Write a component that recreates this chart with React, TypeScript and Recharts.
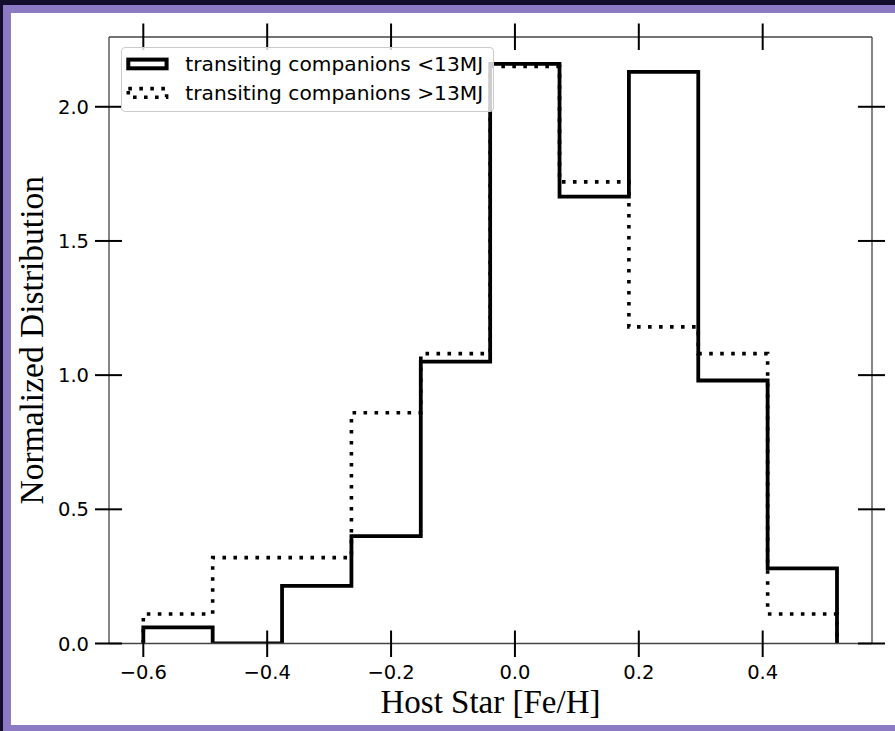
import React from 'react';
import { ComposedChart, Line, XAxis, YAxis, Legend, Label } from 'recharts';

// histogram bins
const binEdges = [-0.6, -0.488, -0.376, -0.264, -0.152, -0.04, 0.072, 0.184, 0.296, 0.408, 0.52];
const lowMassHeights = [0.06, 0, 0.215, 0.4, 1.05, 2.16, 1.665, 2.13, 0.98, 0.28];
const highMassHeights = [0.11, 0.32, 0.32, 0.86, 1.08, 2.15, 1.72, 1.18, 1.08, 0.11];
const seriesNames = ['transiting companions <13MJ', 'transiting companions >13MJ'];

const xTicks = [-0.6, -0.4, -0.2, 0, 0.2, 0.4];
const yTicks = [0, 0.5, 1, 1.5, 2];
const xDomain = [-0.6554, 0.5765];
const yDomain = [0, 2.26];

const SANS = 'DejaVu Sans';
const SERIF = 'Liberation Serif';
const DOTS = '3.6 7.4';

// outline of a step histogram: up at the first edge, down at the last
const toSteps = (heights: number[]) => {
  const pts = [{ x: binEdges[0], y: 0 }];
  heights.forEach((h, i) => pts.push({ x: binEdges[i], y: h }));
  pts.push({ x: binEdges[binEdges.length - 1], y: 0 });
  return pts;
};

const fmt = (v: number) => v.toFixed(1).replace('-', '\u2212');

const BottomTick = ({ x, y, payload }: any) => (
  <g>
    <line x1={x} x2={x} y1={y - 13} y2={y + 13.5} stroke="#000" strokeWidth={2} />
    <text x={x} y={y + 35} textAnchor="middle" fontFamily={SANS} fontSize={19.5} fill="#000">
      {fmt(payload.value)}
    </text>
  </g>
);

const TopTick = ({ x, y }: any) => (
  <line x1={x} x2={x} y1={y - 13.5} y2={y + 13} stroke="#000" strokeWidth={2} />
);

const LeftTick = ({ x, y, payload }: any) => (
  <g>
    <line x1={x - 14} x2={x + 13} y1={y} y2={y} stroke="#000" strokeWidth={2} />
    <text x={x - 20} y={y + 7} textAnchor="end" fontFamily={SANS} fontSize={19.5} fill="#000">
      {fmt(payload.value)}
    </text>
  </g>
);

const RightTick = ({ x, y }: any) => (
  <line x1={x - 14} x2={x + 13} y1={y} y2={y} stroke="#000" strokeWidth={2} />
);

const XTitle = (props: any) => {
  const vb = props.viewBox ?? { x: 109, y: 643.5, width: 763, height: 70 };
  return (
    <text x={vb.x + vb.width / 2} y={vb.y + 69} textAnchor="middle" fontFamily={SERIF} fontSize={33} fill="#000">
      Host Star [Fe/H]
    </text>
  );
};

const YTitle = (props: any) => {
  const vb = props.viewBox ?? { x: 29, y: 37, width: 80, height: 606.5 };
  const cx = vb.x + 14;
  const cy = vb.y + vb.height / 2;
  return (
    <text x={cx} y={cy} transform={`rotate(-90 ${cx} ${cy})`} textAnchor="middle" fontFamily={SERIF} fontSize={33.5} fill="#000">
      Normalized Distribution
    </text>
  );
};

const renderLegend = () => (
  <div
    style={{
      width: 373,
      height: 65,
      boxSizing: 'border-box',
      border: '1px solid #cccccc',
      borderRadius: 4,
      background: 'rgba(255,255,255,0.8)',
    }}
  >
    <svg width={371} height={63} style={{ display: 'block' }}>
      <rect x={6.3} y={11.6} width={38.3} height={8.7} fill="none" stroke="#000" strokeWidth={4} />
      <rect x={6.3} y={40.6} width={38.3} height={8.7} fill="none" stroke="#000" strokeWidth={3.6} strokeDasharray={DOTS} />
      <text x={63.3} y={16.3} dominantBaseline="central" fontFamily={SANS} fontSize={20.2} fill="#000">
        {seriesNames[0]}
      </text>
      <text x={63.3} y={45.3} dominantBaseline="central" fontFamily={SANS} fontSize={20.2} fill="#000">
        {seriesNames[1]}
      </text>
    </svg>
  </div>
);

const spine = { stroke: '#444444', strokeWidth: 1.3 };

export default function App() {
  return (
    <div style={{ position: 'absolute', left: 0, top: 0, width: 895, height: 731, background: '#140e2c' }}>
      <div style={{ position: 'absolute', left: 3, top: 5, width: 892, height: 726, background: '#8c7bc4' }} />
      <div style={{ position: 'absolute', left: 11, top: 13, width: 884, height: 712, background: '#ffffff' }} />
      <div style={{ position: 'absolute', left: 0, top: 0 }}>
        <ComposedChart width={895} height={731} margin={{ top: 17, right: 13, bottom: 17.5, left: 29 }}>
          <XAxis
            type="number"
            dataKey="x"
            domain={xDomain}
            allowDataOverflow
            ticks={xTicks}
            interval={0}
            tickSize={0}
            tickMargin={0}
            tickLine={false}
            tick={<BottomTick />}
            axisLine={spine}
            height={70}
          >
            <Label content={XTitle} />
          </XAxis>
          <XAxis
            xAxisId="top"
            orientation="top"
            type="number"
            dataKey="x"
            domain={xDomain}
            allowDataOverflow
            ticks={xTicks}
            interval={0}
            tickSize={0}
            tickMargin={0}
            tickLine={false}
            tick={<TopTick />}
            axisLine={spine}
            height={20}
          />
          <YAxis
            type="number"
            domain={yDomain}
            allowDataOverflow
            ticks={yTicks}
            interval={0}
            tickSize={0}
            tickMargin={0}
            tickLine={false}
            tick={<LeftTick />}
            axisLine={spine}
            width={80}
          >
            <Label content={YTitle} />
          </YAxis>
          <YAxis
            yAxisId="right"
            orientation="right"
            type="number"
            domain={yDomain}
            allowDataOverflow
            ticks={yTicks}
            interval={0}
            tickSize={0}
            tickMargin={0}
            tickLine={false}
            tick={<RightTick />}
            axisLine={spine}
            width={10}
          />
          <Line
            data={toSteps(lowMassHeights)}
            dataKey="y"
            name={seriesNames[0]}
            type="stepAfter"
            stroke="#000"
            strokeWidth={3.8}
            dot={false}
            activeDot={false}
            isAnimationActive={false}
          />
          <Line
            data={toSteps(highMassHeights)}
            dataKey="y"
            name={seriesNames[1]}
            type="stepAfter"
            stroke="#000"
            strokeWidth={3.6}
            strokeDasharray={DOTS}
            dot={false}
            activeDot={false}
            isAnimationActive={false}
          />
          <Legend
            layout="vertical"
            align="center"
            verticalAlign="middle"
            content={renderLegend}
            wrapperStyle={{ top: 46.7, left: 120.7, width: 373, height: 65 }}
          />
        </ComposedChart>
      </div>
    </div>
  );
}
